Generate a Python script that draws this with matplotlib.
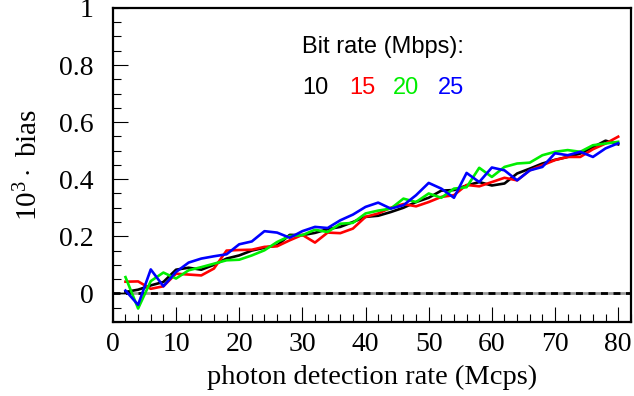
import numpy as np
import matplotlib
matplotlib.use("Agg")
import matplotlib.pyplot as plt
from matplotlib.ticker import MultipleLocator

plt.rcParams["mathtext.fontset"] = "custom"
plt.rcParams["mathtext.rm"] = "Liberation Serif"
plt.rcParams["mathtext.it"] = "Liberation Serif:italic"

# photon detection rate (Mcps)
rate = [2, 4, 6, 8, 10, 12, 14, 16, 18, 20,
        22, 24, 26, 28, 30, 32, 34, 36, 38, 40,
        42, 44, 46, 48, 50, 52, 54, 56, 58, 60,
        62, 64, 66, 68, 70, 72, 74, 76, 78, 80]

bias_10 = [0.005, 0.013, 0.028, 0.040, 0.083, 0.090, 0.083, 0.100, 0.122, 0.133,
           0.150, 0.160, 0.168, 0.205, 0.204, 0.212, 0.225, 0.233, 0.250, 0.268,
           0.272, 0.285, 0.300, 0.320, 0.335, 0.360, 0.362, 0.378, 0.390, 0.378,
           0.385, 0.420, 0.437, 0.455, 0.468, 0.478, 0.490, 0.512, 0.535, 0.522]
bias_15 = [0.041, 0.042, 0.016, 0.025, 0.069, 0.066, 0.063, 0.087, 0.150, 0.152,
           0.153, 0.163, 0.165, 0.186, 0.205, 0.178, 0.213, 0.211, 0.227, 0.268,
           0.280, 0.300, 0.313, 0.305, 0.320, 0.338, 0.344, 0.380, 0.375, 0.390,
           0.405, 0.396, 0.431, 0.449, 0.467, 0.478, 0.478, 0.505, 0.525, 0.549]
bias_20 = [0.057, -0.053, 0.043, 0.073, 0.052, 0.081, 0.092, 0.104, 0.116, 0.118,
           0.133, 0.151, 0.180, 0.201, 0.204, 0.223, 0.215, 0.244, 0.247, 0.280,
           0.290, 0.297, 0.332, 0.320, 0.350, 0.335, 0.367, 0.372, 0.440, 0.408,
           0.443, 0.455, 0.458, 0.484, 0.496, 0.502, 0.496, 0.519, 0.525, 0.531]
bias_25 = [0.010, -0.040, 0.084, 0.025, 0.075, 0.108, 0.122, 0.130, 0.137, 0.172,
           0.182, 0.218, 0.213, 0.195, 0.218, 0.233, 0.229, 0.256, 0.276, 0.303,
           0.318, 0.297, 0.309, 0.344, 0.387, 0.367, 0.335, 0.422, 0.390, 0.441,
           0.431, 0.396, 0.431, 0.443, 0.491, 0.484, 0.496, 0.478, 0.508, 0.526]

bit_rates = ["10", "15", "20", "25"]
colors = ["#000000", "#ff0000", "#00ee00", "#0000ff"]
series = [bias_10, bias_15, bias_20, bias_25]

fig = plt.figure(figsize=(6.34, 3.96), dpi=100)
ax = fig.add_axes([0.178, 0.187, 0.817, 0.793])

# zero line: grey base with black dashes on top
ax.axhline(0, color="0.6", lw=2.0, zorder=1)
ax.axhline(0, color="black", lw=2.0, ls=(0, (2.5, 2)), zorder=1)

for vals, c in zip(series, colors):
    ax.plot(rate, vals, color=c, lw=1.9, zorder=2)

ax.set_xlim(0, 82)
ax.set_ylim(-0.1, 1)
ax.xaxis.set_major_locator(MultipleLocator(10))
ax.xaxis.set_minor_locator(MultipleLocator(2))
ax.yaxis.set_major_locator(MultipleLocator(0.2))
ax.yaxis.set_minor_locator(MultipleLocator(0.05))
ax.set_yticks([0, 0.2, 0.4, 0.6, 0.8, 1.0])
ax.set_yticklabels(["0", "0.2", "0.4", "0.6", "0.8", "1"])

ax.tick_params(which="both", direction="in", top=False, right=False,
               width=0.8, labelsize=20)
ax.tick_params(axis="y", pad=14)
ax.tick_params(axis="x", pad=7)
ax.tick_params(which="major", length=11)
ax.tick_params(which="minor", length=5.5)
for lab in ax.get_xticklabels() + ax.get_yticklabels():
    lab.set_family("Liberation Serif")
for s in ax.spines.values():
    s.set_linewidth(1.6)

ax.set_xlabel("photon detection rate (Mcps)", family="Liberation Serif",
              fontsize=20.5, labelpad=6)
ax.set_ylabel(r"$10^3\cdot$ bias", family="Liberation Serif", fontsize=21,
              labelpad=11)

ax.text(0.365, 0.876, "Bit rate (Mbps):", transform=ax.transAxes,
        family="Liberation Sans", fontsize=17, va="center", ha="left")
xs = [0.366, 0.457, 0.540, 0.627]
for x, t, c in zip(xs, bit_rates, colors):
    ax.text(x, 0.745, t, transform=ax.transAxes, color=c,
            family="Liberation Sans", fontsize=17, va="center", ha="left")

fig.savefig("out.png", dpi=100)
